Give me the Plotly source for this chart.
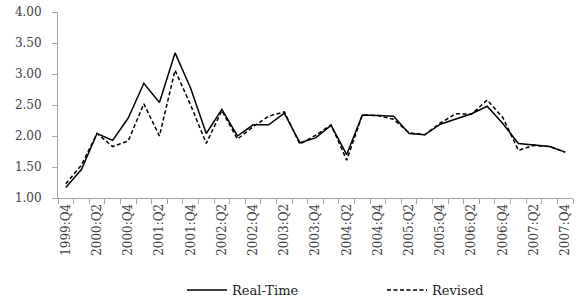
import plotly.graph_objects as go

quarters = ["1999:Q4"]
for yr in range(2000, 2008):
    for q in range(1, 5):
        quarters.append(f"{yr}:Q{q}")

real_time = [1.17, 1.46, 2.04, 1.93, 2.29, 2.85, 2.54, 3.34, 2.77, 2.04, 2.43,
             2.00, 2.18, 2.18, 2.37, 1.89, 1.97, 2.17, 1.70, 2.34, 2.33, 2.32,
             2.04, 2.02, 2.19, 2.28, 2.36, 2.48, 2.20, 1.88, 1.85, 1.83, 1.74]
revised = [1.23, 1.53, 2.04, 1.83, 1.92, 2.52, 2.00, 3.06, 2.50, 1.88, 2.41,
           1.95, 2.15, 2.32, 2.39, 1.87, 2.01, 2.18, 1.61, 2.34, 2.33, 2.27,
           2.05, 2.02, 2.21, 2.36, 2.35, 2.58, 2.30, 1.77, 1.85, 1.83, 1.74]

x = list(range(len(quarters)))
label_idx = x[::2]
label_text = quarters[::2]

font_family = "DejaVu Serif"
fig = go.Figure()
fig.add_trace(go.Scatter(x=x, y=real_time, mode="lines", name="Real-Time",
                         line=dict(color="black", width=1.5)))
fig.add_trace(go.Scatter(x=x, y=revised, mode="lines", name="Revised",
                         line=dict(color="black", width=1.5, dash="4px,2.5px")))

fig.update_layout(
    width=581, height=300,
    margin=dict(l=58, r=8, t=12, b=102, autoexpand=False),
    paper_bgcolor="white", plot_bgcolor="white",
    font=dict(family=font_family, size=12, color="#404040"),
    showlegend=True,
    legend=dict(orientation="h", x=(182 - 58) / 515, xanchor="left", y=-0.495, yanchor="middle",
                font=dict(family=font_family, size=13, color="#222222"),
                itemwidth=40, entrywidth=145, entrywidthmode="pixels", tracegroupgap=0),
    xaxis=dict(range=[-0.5, len(quarters) - 0.5], tickmode="array",
               tickvals=label_idx, ticktext=label_text, tickangle=-90,
               ticks="", showline=True, linecolor="#a6a6a6", linewidth=1,
               showgrid=False, zeroline=False, automargin=False,
               tickfont=dict(family=font_family, size=12, color="#404040"),
               minor=dict(tickmode="linear", tick0=-0.5, dtick=1, ticks="outside",
                          ticklen=5, tickcolor="#a6a6a6", showgrid=False)),
    yaxis=dict(range=[1.0, 4.0], tickmode="linear", tick0=1.0, dtick=0.5,
               tickformat=".2f", ticks="outside", ticklen=5, tickcolor="#a6a6a6",
               showline=True, linecolor="#a6a6a6", linewidth=1,
               showgrid=False, zeroline=False, ticklabelstandoff=8, automargin=False,
               tickfont=dict(family=font_family, size=12, color="#404040")),
)

fig.write_html("out.html", config={"displayModeBar": False},
               post_script="document.body.style.margin='0';")
